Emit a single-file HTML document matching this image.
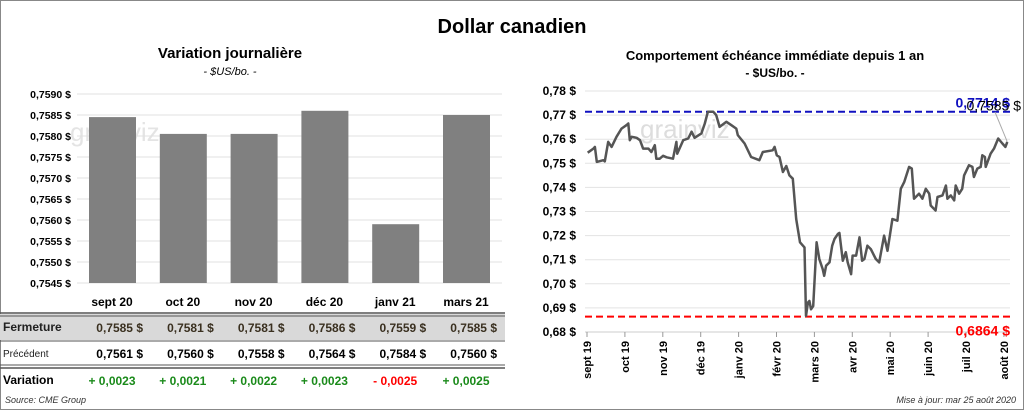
<!DOCTYPE html>
<html><head><meta charset="utf-8">
<style>
body{margin:0;background:#fff;font-family:"Liberation Sans",sans-serif;}
#wrap{position:relative;width:1024px;height:410px;overflow:hidden;}
</style></head>
<body>
<div id="wrap">
<svg id="svg" width="1024" height="410" xmlns="http://www.w3.org/2000/svg" font-family="Liberation Sans, sans-serif">
<rect x="0.5" y="0.5" width="1023" height="409" fill="#fff" stroke="#888"/>
<text x="512" y="33" text-anchor="middle" font-size="20" font-weight="bold">Dollar canadien</text>
<text x="230" y="58" text-anchor="middle" font-size="15" font-weight="bold">Variation  journalière</text>
<text x="230" y="75" text-anchor="middle" font-size="11" font-style="italic">- $US/bo. -</text>
<text x="775" y="60" text-anchor="middle" font-size="13" font-weight="bold">Comportement échéance immédiate depuis 1 an</text>
<text x="775" y="77" text-anchor="middle" font-size="12" font-weight="bold">- $US/bo. -</text>
<text x="640" y="138" font-size="26" fill="#ddd">grainviz</text>
<text x="70" y="141" font-size="26" fill="#e4e4e4">grainviz</text>
<g id="left"></g>
<g id="right"></g>
<g id="table"></g>
<text x="5" y="403" font-size="9" font-style="italic" fill="#333">Source: CME Group</text>
<text x="1016" y="403" text-anchor="end" font-size="9" font-style="italic" fill="#333">Mise à jour: mar 25 août 2020</text>
</svg>
</div>
<script>
const barCats=["sept 20","oct 20","nov 20","déc 20","janv 21","mars 21"];
const barVals=[0.75845,0.75805,0.75805,0.7586,0.7559,0.7585];
const closeVals=["0,7585","0,7581","0,7581","0,7586","0,7559","0,7585"];
const prevVals=["0,7561","0,7560","0,7558","0,7564","0,7584","0,7560"];
const changeVals=["+ 0,0023","+ 0,0021","+ 0,0022","+ 0,0023","- 0,0025","+ 0,0025"];
const leftTicks=[0.7545,0.7550,0.7555,0.7560,0.7565,0.7570,0.7575,0.7580,0.7585,0.7590];
const lineMonths=[-0.06,0.09,0.13,0.18,0.35,0.39,0.48,0.57,0.70,0.83,0.96,1.01,1.05,1.10,1.23,1.32,1.40,1.54,1.62,1.71,1.75,1.84,1.93,2.02,2.19,2.28,2.30,2.46,2.59,2.68,2.76,2.94,3.03,3.11,3.25,3.33,3.42,3.60,3.73,3.86,3.90,4.08,4.25,4.47,4.56,4.82,4.87,4.93,5.00,5.09,5.18,5.26,5.35,5.44,5.54,5.66,5.70,5.75,5.79,5.83,5.89,5.98,6.05,6.14,6.18,6.23,6.32,6.39,6.45,6.54,6.58,6.67,6.75,6.80,6.89,6.93,7.02,7.11,7.18,7.24,7.32,7.41,7.54,7.63,7.76,7.85,7.98,8.11,8.20,8.29,8.42,8.49,8.55,8.68,8.77,8.86,8.95,8.99,9.12,9.17,9.30,9.39,9.43,9.52,9.61,9.65,9.74,9.82,9.87,10.00,10.09,10.13,10.22,10.31,10.35,10.42,10.44,10.57,10.66,10.77,10.88,10.96,11.01];
const lineVals=[.7544,.7561,.7568,.7506,.7513,.7508,.7589,.7568,.7610,.7644,.7658,.7665,.7596,.7610,.7606,.7596,.7561,.7561,.7547,.7575,.7519,.7519,.7531,.7525,.7519,.7589,.7540,.7596,.7603,.7631,.7606,.7624,.7665,.7714,.7714,.7700,.7651,.7672,.7658,.7644,.7617,.7582,.7526,.7513,.7547,.7554,.7568,.7533,.7526,.7464,.7489,.7450,.7436,.7269,.7172,.7151,.6867,.6922,.6929,.6894,.6908,.7172,.7103,.7061,.7033,.7075,.7089,.7158,.7186,.7207,.7211,.7096,.7131,.7089,.7040,.7117,.7117,.7193,.7096,.7103,.7158,.7144,.7103,.7089,.7200,.7137,.7269,.7262,.7394,.7422,.7485,.7478,.7353,.7374,.7353,.7394,.7374,.7325,.7304,.7360,.7367,.7408,.7353,.7367,.7346,.7408,.7374,.7394,.7450,.7492,.7485,.7443,.7478,.7485,.7533,.7526,.7485,.7540,.7561,.7603,.7582,.7568,.7589];
const monthLabels=["sept 19","oct 19","nov 19","déc 19","janv 20","févr 20","mars 20","avr 20","mai 20","juin 20","juil 20","août 20"];
const rightTicks=[0.68,0.69,0.70,0.71,0.72,0.73,0.74,0.75,0.76,0.77,0.78];
const highVal=0.7714, lowVal=0.6864, lastVal=0.7585;

const NS="http://www.w3.org/2000/svg";
function mk(t,a,p,txt){const e=document.createElementNS(NS,t);for(const k in a)e.setAttribute(k,a[k]);if(txt!==undefined)e.textContent=txt;p.appendChild(e);return e;}
const fmt=(v,d)=>v.toFixed(d).replace('.',',');

// left bar chart
const L=document.getElementById('left');
const ly=v=>283-(v-0.7545)/0.0005*21;
const lx=i=>89+i*70.8;
leftTicks.forEach(t=>{
 const g=mk('line',{x1:77,x2:502,y1:ly(t),y2:ly(t),stroke:'#e0e0e0'},L);
 
 const tx=mk('text',{x:71,y:ly(t)+4,'text-anchor':'end','font-size':10.5,'font-weight':'bold'},L,fmt(t,4)+' $');
 
});
barVals.forEach((v,i)=>{
 const r=mk('rect',{x:lx(i),y:ly(v),width:47,height:283-ly(v),fill:'#808080'},L);
 
});

// table
const T=document.getElementById('table');
const cx=i=>lx(i)+23;
const bg=mk('rect',{x:0,y:314,width:505,height:26,fill:'#d9d9d9'},T);

[[313,1.5],[316,1],[341,1],[365,1],[368,1.5]].forEach(([y,w])=>{const l=mk('line',{x1:0,x2:505,y1:y,y2:y,stroke:'#555','stroke-width':w},T);});
const r1=mk('text',{x:3,y:331,'font-size':12,'font-weight':'bold',fill:'#222'},T,'Fermeture');

const r2=mk('text',{x:3,y:357,'font-size':10,fill:'#222'},T,'Précédent');

const r3=mk('text',{x:3,y:384,'font-size':12,'font-weight':'bold'},T,'Variation');

barCats.forEach((c,i)=>{
 const h=mk('text',{x:cx(i),y:306,'text-anchor':'middle','font-size':12,'font-weight':'bold'},T,c);
 
 const a=mk('text',{x:cx(i)+31,y:332,'text-anchor':'end','font-size':12,'font-weight':'bold',fill:'#3a3020'},T,closeVals[i]+'  $');
 
 const b=mk('text',{x:cx(i)+31,y:358,'text-anchor':'end','font-size':12,'font-weight':'bold'},T,prevVals[i]+'  $');
 
 const neg=changeVals[i].charAt(0)==='-';
 const e=mk('text',{x:cx(i),y:385,'text-anchor':'middle','font-size':12,'font-weight':'bold',fill:neg?'#ff0000':'#1a8a1a'},T,changeVals[i]);
 
});

// right line chart
const R=document.getElementById('right');
const ry=v=>91+(0.78-v)*2410;
const rx=m=>590+m*37.9;
rightTicks.forEach(t=>{
 const g=mk('line',{x1:585,x2:1010,y1:ry(t),y2:ry(t),stroke:t===0.68?'#ccc':'#e3e3e3'},R);
 
 const tx=mk('text',{x:576,y:ry(t)+4,'text-anchor':'end','font-size':12,'font-weight':'bold'},R,fmt(t,2)+' $');
 
});
monthLabels.forEach((m,i)=>{
 const x=587+i*37.9;
 const tk=mk('line',{x1:x,x2:x,y1:ry(0.68),y2:ry(0.68)+5,stroke:'#999'},R);
 
 const t=mk('text',{x:0,y:0,'text-anchor':'end','font-size':11,'font-weight':'bold',transform:`translate(${x+4},${ry(0.68)+9}) rotate(-90)`},R,m);
 
});
const hl=mk('line',{x1:585,x2:1012,y1:ry(highVal),y2:ry(highVal),stroke:'#1010c0','stroke-width':2,'stroke-dasharray':'7,4'},R);

const ll=mk('line',{x1:585,x2:1012,y1:ry(lowVal),y2:ry(lowVal),stroke:'#ff0000','stroke-width':2,'stroke-dasharray':'7,4'},R);

let d='';lineVals.forEach((v,i)=>{d+=(i?'L':'M')+rx(lineMonths[i]).toFixed(1)+','+ry(v).toFixed(1);});
const p=mk('path',{d:d,fill:'none',stroke:'#555','stroke-width':2.5,'stroke-linejoin':'round'},R);

const lastX=rx(lineMonths[lineMonths.length-1]), lastY=ry(lineVals[lineVals.length-1]);
const ld=mk('line',{x1:lastX,y1:lastY,x2:995,y2:112,stroke:'#aaa'},R);

const hlab=mk('text',{x:1010,y:ry(highVal)-4,'text-anchor':'end','font-size':14,'font-weight':'bold',fill:'#1010c0'},R,fmt(highVal,4)+' $');

const llab=mk('text',{x:1010,y:ry(lowVal)+19,'text-anchor':'end','font-size':14,'font-weight':'bold',fill:'#ff0000'},R,fmt(lowVal,4)+' $');

const lastl=mk('text',{x:1021,y:ry(highVal)-1,'text-anchor':'end','font-size':14,fill:'#000'},R,fmt(lastVal,4)+' $');

</script>
</body></html>
